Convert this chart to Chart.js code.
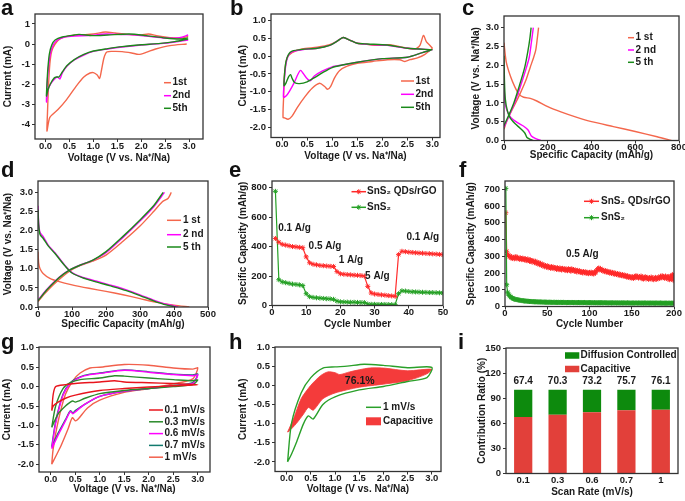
<!DOCTYPE html>
<html>
<head>
<meta charset="utf-8">
<script src="https://cdn.jsdelivr.net/npm/chart.js@4.4.1/dist/chart.umd.min.js"></script>
<style>
  body { margin: 0; background: #fff; }
  #fig { position: relative; width: 685px; height: 501px; overflow: hidden; font-family: "Liberation Sans", Arial, sans-serif; }
  #fig canvas { position: absolute; }
  .tag { position: absolute; font-weight: bold; font-size: 22px; line-height: 22px; color: #111; z-index: 2; }
</style>
</head>
<body>
<div id="fig"></div>
<script>
// ---- data ----
const voltTicks = [0, 0.5, 1, 1.5, 2, 2.5, 3];

// a: CV, first cycles (V, mA)
const a1V = [2.95,2.6,2.3,2.1,1.95,1.8,1.6,1.4,1.28,1.22,1.17,1.13,1.08,1.0,0.93,0.8,0.65,0.44,0.26,0.09,0.03,0.04,0.06,0.09,0.13,0.2,0.3,0.45,0.7,1.0,1.25,1.45,1.7,2.0,2.15,2.35,2.6,2.85,2.98];
const a1I = [0.0,-0.08,-0.25,-0.42,-0.52,-0.45,-0.38,-0.37,-0.4,-0.7,-1.3,-1.72,-1.55,-1.43,-1.45,-1.65,-2.08,-2.78,-3.28,-3.67,-4.35,-3.5,-2.2,-1.0,-0.35,0.0,0.25,0.38,0.45,0.5,0.6,0.55,0.48,0.45,0.5,0.4,0.32,0.3,0.38];
const a2V = [2.98,2.7,2.4,2.0,1.6,1.3,1.0,0.8,0.6,0.45,0.35,0.3,0.25,0.2,0.12,0.05,0.02,0.03,0.06,0.1,0.16,0.25,0.4,0.6,0.9,1.25,1.5,1.75,2.1,2.5,2.8,2.98];
const a2I = [0.2,0.1,0.02,-0.05,-0.15,-0.25,-0.37,-0.55,-0.8,-1.1,-1.45,-1.75,-1.65,-1.72,-1.95,-2.3,-2.9,-2.2,-1.2,-0.5,-0.05,0.2,0.35,0.4,0.42,0.5,0.48,0.47,0.4,0.3,0.32,0.45];
const a5V = [2.98,2.7,2.4,2.0,1.6,1.3,1.0,0.8,0.6,0.45,0.35,0.28,0.23,0.18,0.1,0.05,0.02,0.03,0.05,0.08,0.13,0.2,0.35,0.6,0.7,1.0,1.3,1.75,2.1,2.5,2.8,2.98];
const a5I = [0.25,0.12,0.03,-0.04,-0.13,-0.23,-0.35,-0.52,-0.78,-1.08,-1.4,-1.65,-1.65,-1.7,-2.0,-2.3,-2.6,-2.0,-1.2,-0.5,-0.05,0.2,0.35,0.45,0.48,0.42,0.45,0.5,0.42,0.3,0.25,0.3];
const aTicks = [-4, -3, -2, -1, 0, 1];

// b: CV, SnS2
const b1V = [3.0,2.85,2.7,2.55,2.45,2.35,2.1,1.8,1.5,1.3,1.15,1.05,0.97,0.91,0.85,0.75,0.6,0.45,0.3,0.2,0.12,0.05,0.02,0.03,0.05,0.1,0.2,0.4,0.7,0.95,1.1,1.22,1.35,1.5,1.65,1.9,2.15,2.4,2.65,2.75,2.82,2.88,2.95,3.0];
const b1I = [0.22,0.05,-0.05,-0.1,-0.15,-0.1,-0.1,-0.15,-0.2,-0.28,-0.4,-0.6,-0.85,-0.93,-0.85,-0.76,-0.9,-1.15,-1.45,-1.68,-1.77,-1.73,-1.72,-1.2,-0.5,-0.05,0.1,0.2,0.25,0.32,0.42,0.52,0.45,0.36,0.34,0.3,0.32,0.25,0.2,0.3,0.58,0.4,0.3,0.22];
const b2V = [3.0,2.8,2.5,2.0,1.5,1.2,1.0,0.8,0.65,0.56,0.48,0.42,0.37,0.32,0.25,0.15,0.08,0.03,0.04,0.07,0.12,0.2,0.4,0.7,0.95,1.1,1.22,1.35,1.5,1.7,2.1,2.5,3.0];
const b2I = [0.18,0.1,-0.03,-0.07,-0.17,-0.25,-0.3,-0.42,-0.55,-0.69,-0.6,-0.48,-0.4,-0.5,-0.72,-0.98,-1.12,-1.15,-0.8,-0.3,0.0,0.12,0.18,0.22,0.3,0.42,0.52,0.45,0.36,0.33,0.3,0.22,0.18];
const b5V = [3.0,2.8,2.5,2.0,1.5,1.2,1.0,0.8,0.65,0.5,0.35,0.25,0.2,0.17,0.13,0.08,0.04,0.05,0.08,0.13,0.2,0.4,0.7,0.95,1.1,1.22,1.35,1.5,1.7,2.1,2.5,3.0];
const b5I = [0.18,0.1,-0.03,-0.07,-0.17,-0.25,-0.32,-0.47,-0.6,-0.72,-0.77,-0.74,-0.62,-0.52,-0.58,-0.75,-0.83,-0.5,-0.15,0.05,0.14,0.19,0.22,0.3,0.42,0.52,0.45,0.36,0.34,0.31,0.22,0.18];
const bTicks = [-2, -1.5, -1, -0.5, 0, 0.5, 1];

// c: charge/discharge, SnS2 (mAh/g, V)
const c1dQ = [0,10,30,50,70,90,120,150,200,260,330,400,500,600,700,765];
const c1dV = [2.6,2.1,1.7,1.42,1.22,1.15,1.12,1.05,0.9,0.76,0.62,0.5,0.37,0.24,0.1,0.0];
const c1cQ = [0,15,40,70,100,120,135,145,152,158];
const c1cV = [0.3,0.55,0.85,1.2,1.6,1.95,2.2,2.4,2.7,3.0];
const c2dQ = [0,5,15,30,60,90,110,125,145,168];
const c2dV = [1.5,1.0,0.78,0.62,0.48,0.38,0.28,0.12,0.05,0.0];
const c2cQ = [0,20,45,70,95,115,125,134];
const c2cV = [0.35,0.62,0.95,1.35,1.8,2.2,2.6,3.0];
const c5dQ = [0,2,6,15,28,50,75,95,105,120,133];
const c5dV = [2.25,1.6,1.1,0.8,0.6,0.45,0.32,0.2,0.08,0.03,0.0];
const c5cQ = [0,20,45,70,95,110,118,124];
const c5cV = [0.4,0.65,1.0,1.45,1.95,2.4,2.7,3.0];
const capTicksC = [0, 200, 400, 600, 800];

// d: charge/discharge, SnS2 QDs/rGO
const d1dQ = [0,2,6,15,35,60,100,150,200,250,300,350,400,445];
const d1dV = [1.45,1.15,1.0,0.88,0.75,0.67,0.58,0.49,0.41,0.32,0.22,0.12,0.05,0.0];
const d1cQ = [0,20,45,70,95,120,160,200,250,300,340,365,383,392];
const d1cV = [0.14,0.35,0.58,0.78,0.95,1.07,1.2,1.36,1.72,2.12,2.5,2.75,2.85,3.0];
const d2dQ = [0,2,6,15,30,50,80,100,130,170,210,260,300,340,370,400,412];
const d2dV = [2.65,2.2,1.95,1.85,1.62,1.42,1.08,0.9,0.78,0.68,0.58,0.45,0.32,0.18,0.09,0.03,0.0];
const d2cQ = [0,25,50,75,95,125,160,200,250,300,340,372];
const d2cV = [0.18,0.45,0.68,0.87,0.98,1.1,1.22,1.42,1.82,2.25,2.62,3.0];
const d5dQ = [0,2,6,15,30,50,80,100,130,170,210,260,300,340,370,405];
const d5dV = [2.55,2.15,1.9,1.8,1.6,1.4,1.07,0.89,0.77,0.66,0.56,0.43,0.3,0.16,0.07,0.0];
const d5cQ = [0,25,50,75,95,125,160,200,250,300,340,368];
const d5cV = [0.16,0.44,0.67,0.86,0.98,1.1,1.22,1.45,1.85,2.28,2.65,3.0];
const capTicksD = [0, 100, 200, 300, 400, 500];
const vTicks = [0, 0.5, 1, 1.5, 2, 2.5, 3];

// e: rate capability (50 cycles)
const eQD = [455,430,415,410,405,400,398,395,392,330,290,280,276,272,270,268,266,265,230,215,212,210,208,206,205,203,200,130,85,78,75,72,70,67,65,62,345,368,365,362,360,358,356,355,353,352,350,349,347,345];
const eBulk = [775,175,160,155,150,145,143,140,135,80,60,55,52,50,48,46,45,42,30,25,24,23,22,22,21,20,20,10,8,8,7,7,7,6,6,6,80,100,98,95,93,92,91,90,89,88,88,87,86,85];
const eXTicks = [0, 10, 20, 30, 40, 50];
const eYTicks = [0, 200, 400, 600, 800];

// f: cycling at 0.5 A/g (200 cycles)
const fQD = [
  560,330,312,305,298,302,290,296,288,294, 285,292,298,286,293,288,282,291,286,280,
  289,283,278,286,280,274,284,277,270,279, 272,266,275,268,262,270,258,265,255,262,
  250,258,246,252,242,249,238,245,236,243, 232,240,233,228,238,230,236,226,233,229,
  222,232,226,220,230,224,218,228,221,226, 216,224,219,214,226,218,222,212,225,216,
  221,210,218,214,206,216,209,213,203,210, 206,200,209,202,207,198,205,200,196,204,
  199,205,196,202,194,206,200,212,218,226, 230,222,226,216,220,212,216,208,214,206,
  211,203,208,200,206,198,204,195,201,193, 199,191,197,188,194,186,192,184,190,182,
  188,180,186,176,183,174,180,172,178,170, 176,168,180,172,184,175,181,170,178,172,
  182,168,176,164,172,178,166,174,170,162, 172,166,176,164,170,160,168,174,162,170,
  166,176,168,180,172,184,174,178,168,182, 170,178,164,176,160,182,168,190,158,186];
const fBulk = [
  706,130,86,74,66,60,56,52,49,47, 45,43,42,41,40,39,38,37,36,35,
  35,34,33,33,32,32,31,31,30,30, 30,29,29,29,28,28,28,28,27,27,
  27,27,27,26,26,26,26,26,26,25, 25,25,26,25,25,24,25,25,25,24,
  25,24,25,24,24,25,24,24,25,24, 24,24,23,24,24,24,23,24,24,24,
  23,24,23,24,23,23,24,23,23,24, 23,23,23,24,23,23,22,23,23,23,
  23,22,23,23,22,23,22,23,22,22, 23,22,22,23,22,22,22,23,22,22,
  22,21,22,22,22,21,22,22,21,22, 22,21,22,21,22,21,21,22,21,21,
  22,21,21,21,22,21,21,21,20,21, 21,21,20,21,21,21,20,21,21,20,
  21,20,21,20,21,21,20,20,21,20, 20,21,20,20,21,20,20,20,21,20,
  20,20,20,21,20,20,19,20,20,20, 20,19,20,20,20,19,20,20,19,20];
const fXTicks = [0, 50, 100, 150, 200];
const fYTicks = [0, 100, 200, 300, 400, 500, 600, 700];

// g: CV at different scan rates
const g1V = [0.02,0.05,0.15,0.3,0.45,0.6,0.8,1.0,1.5,2.0,2.5,2.9,3.0,2.9,2.5,2.0,1.5,1.0,0.75,0.55,0.5,0.44,0.35,0.2,0.1,0.02];
const g1I = [-2.0,-1.6,-0.9,-0.2,0.15,0.35,0.48,0.5,0.57,0.55,0.48,0.45,0.48,0.2,0.07,-0.05,-0.15,-0.35,-0.55,-0.85,-0.88,-0.8,-1.1,-1.55,-1.8,-2.0];
const g7V = [0.02,0.1,0.25,0.4,0.6,0.8,1.0,1.5,2.0,2.5,2.9,3.0,2.9,2.5,2.0,1.5,1.0,0.7,0.5,0.45,0.4,0.3,0.15,0.02];
const g7I = [-1.55,-0.9,-0.2,0.1,0.25,0.32,0.35,0.43,0.38,0.32,0.3,0.32,0.1,0.03,-0.05,-0.12,-0.25,-0.45,-0.62,-0.68,-0.62,-0.85,-1.2,-1.55];
const g6I = [-1.6,-0.95,-0.22,0.08,0.24,0.31,0.34,0.42,0.37,0.31,0.28,0.3,0.08,0.02,-0.05,-0.12,-0.25,-0.45,-0.65,-0.7,-0.64,-0.88,-1.25,-1.6];
const g3V = [0.02,0.1,0.25,0.4,0.6,1.0,1.3,1.5,2.0,2.5,2.9,3.0,2.9,2.5,2.0,1.5,1.0,0.7,0.5,0.45,0.4,0.3,0.15,0.02];
const g3I = [-1.05,-0.5,-0.05,0.1,0.18,0.22,0.28,0.27,0.22,0.18,0.15,0.17,0.05,0.0,-0.05,-0.1,-0.18,-0.3,-0.4,-0.37,-0.4,-0.5,-0.7,-1.05];
const g0V = [0.02,0.05,0.1,0.3,0.5,1.0,1.3,1.5,2.0,2.5,3.0,2.5,2.0,1.5,1.0,0.5,0.3,0.15,0.05,0.02];
const g0I = [-0.62,-0.2,0.0,0.05,0.08,0.12,0.15,0.12,0.1,0.08,0.05,0.02,-0.01,-0.05,-0.1,-0.22,-0.3,-0.4,-0.5,-0.62];
const cvTicks = [-2, -1.5, -1, -0.5, 0, 0.5, 1];

// h: capacitive separation at 1 mV/s
const hV = [0.02,0.1,0.3,0.5,0.75,1.0,1.25,1.6,2.0,2.5,3.0,2.9,2.5,2.0,1.5,1.0,0.75,0.55,0.45,0.35,0.2,0.1,0.02];
const hI = [-2.0,-1.0,-0.2,0.2,0.45,0.48,0.5,0.55,0.52,0.46,0.47,0.2,0.1,-0.03,-0.12,-0.3,-0.5,-0.88,-0.8,-1.0,-1.5,-1.8,-2.0];
const hCapV = [0.02,0.15,0.3,0.5,0.7,0.85,1.0,1.1,1.3,1.7,2.0,2.5,3.0,2.9,2.5,2.0,1.5,1.0,0.75,0.55,0.45,0.35,0.2,0.05,0.02];
const hCapI = [-1.22,-0.85,-0.35,0.0,0.25,0.35,0.33,0.28,0.35,0.45,0.45,0.38,0.42,0.3,0.12,0.03,-0.05,-0.2,-0.35,-0.65,-0.58,-0.75,-1.0,-1.2,-1.22];

// i: contribution ratio
const scanRates = ['0.1', '0.3', '0.6', '0.7', '1'];
const capacitive = [67.4, 70.3, 73.2, 75.7, 76.1];
const diffusion = [32.6, 29.7, 26.8, 24.3, 23.9];
const ratioTicks = [0, 30, 60, 90, 120, 150];

// ---- drawing ----
const FONT = '"Liberation Sans", Arial, sans-serif';
const INK = '#1a1a1a';
Chart.defaults.font.family = FONT;
Chart.defaults.font.weight = 'bold';
Chart.defaults.color = INK;

const orange = '#f4674c', magenta = '#ff00ff', green = '#1a8a1a';
const fig = document.getElementById('fig');

const xy = (xs, ys) => xs.map((x, i) => ({ x, y: ys[i] }));

const curve = (xs, ys, color) => ({
  data: xy(xs, ys), showLine: true, borderColor: color, backgroundColor: color,
  borderWidth: 1.4, pointRadius: 0, tension: 0.25
});

const stars = (ys, color) => ({
  data: ys.map((v, i) => ({ x: i + 1, y: v })), showLine: true,
  borderColor: color, backgroundColor: color, borderWidth: 1.2,
  pointStyle: 'star', pointRadius: 2.5, pointBorderWidth: 1, pointBorderColor: color
});

function drawStar(ctx, x, y, r) {
  const d = r * Math.SQRT1_2;
  ctx.beginPath();
  ctx.moveTo(x - r, y); ctx.lineTo(x + r, y);
  ctx.moveTo(x, y - r); ctx.lineTo(x, y + r);
  ctx.moveTo(x - d, y - d); ctx.lineTo(x + d, y + d);
  ctx.moveTo(x - d, y + d); ctx.lineTo(x + d, y - d);
  ctx.stroke();
}

const frame = {
  id: 'frame',
  afterDraw(chart) {
    const { ctx, chartArea: a } = chart;
    ctx.save();
    ctx.strokeStyle = '#333';
    ctx.lineWidth = 1.3;
    ctx.strokeRect(a.left, a.top, a.right - a.left, a.bottom - a.top);
    ctx.restore();
  }
};

// legend drawn inside the plot, positions in page pixels
const keyBox = {
  id: 'keyBox',
  afterDraw(chart, args, opts) {
    if (!opts.items) return;
    const ctx = chart.ctx;
    const ox = chart.canvas.offsetLeft, oy = chart.canvas.offsetTop;
    const x0 = opts.x0 - ox, x1 = opts.x1 - ox;
    ctx.save();
    ctx.font = `bold ${opts.size || 10}px ${FONT}`;
    ctx.textBaseline = 'middle';
    opts.items.forEach(it => {
      const y = it.y - oy;
      if (it.kind === 'box') {
        ctx.fillStyle = it.color;
        ctx.fillRect(x0, y - it.h / 2, x1 - x0, it.h);
      } else {
        ctx.strokeStyle = it.color;
        ctx.lineWidth = 1.5;
        ctx.beginPath(); ctx.moveTo(x0, y); ctx.lineTo(x1, y); ctx.stroke();
        if (it.kind === 'star') { ctx.lineWidth = 1; drawStar(ctx, (x0 + x1) / 2, y, 2.5); }
      }
      ctx.fillStyle = INK;
      ctx.fillText(it.text, opts.tx - ox, y);
    });
    ctx.restore();
  }
};

// text placed at data coordinates
const notes = {
  id: 'notes',
  afterDatasetsDraw(chart, args, opts) {
    if (!opts.items) return;
    const { ctx, scales: { x, y } } = chart;
    ctx.save();
    ctx.font = `bold ${opts.size || 10}px ${FONT}`;
    ctx.textAlign = 'center';
    ctx.textBaseline = 'middle';
    ctx.fillStyle = INK;
    opts.items.forEach(n => ctx.fillText(n.text, x.getPixelForValue(n.x), y.getPixelForValue(n.y)));
    ctx.restore();
  }
};

function axis(range, ticks, dec, title, fit, pad) {
  const ax = {
    afterFit: fit,
    ticks: { font: { size: 9.5, weight: 'bold' }, padding: pad, color: INK, maxRotation: 0, autoSkip: false },
    grid: { display: true, drawOnChartArea: false, tickLength: 3, color: '#333' },
    border: { display: false },
    title: { display: true, text: title, font: { size: 10, weight: 'bold' }, padding: 0, color: INK }
  };
  if (range) {
    ax.type = 'linear';
    ax.min = range[0];
    ax.max = range[1];
    ax.afterBuildTicks = s => { s.ticks = ticks.map(v => ({ value: v })); };
    ax.ticks.callback = v => v.toFixed(dec);
  }
  return ax;
}

function panel(p) {
  const left = p.ytc - 6;
  const width = p.R - left + 16;
  const height = p.B + p.xto + 6 - p.cy;
  const cv = document.createElement('canvas');
  cv.width = width;
  cv.height = height;
  cv.style.left = left + 'px';
  cv.style.top = p.cy + 'px';
  fig.appendChild(cv);

  const xAx = axis(p.x, p.xt, p.xd, p.xTitle, s => { s.height = p.xto + 6; }, -1.5);
  const yAx = axis(p.y, p.yt, p.yd, p.yTitle, s => { s.width = p.L - left; }, 2);
  if (p.bar) {
    xAx.type = 'category';
    xAx.stacked = true;
    xAx.grid.display = false;
    xAx.ticks.padding = -2;
    yAx.stacked = true;
  }

  new Chart(cv, {
    type: p.bar ? 'bar' : 'scatter',
    data: { labels: p.labels, datasets: p.datasets },
    options: {
      responsive: false, animation: false, devicePixelRatio: 1,
      layout: { padding: { left: 0, top: p.T - p.cy, right: 16, bottom: 0 } },
      plugins: {
        legend: { display: false }, tooltip: { enabled: false },
        keyBox: p.key || {}, notes: p.notes || {}
      },
      scales: { x: xAx, y: yAx }
    },
    plugins: [frame, keyBox, notes]
  });

  const t = document.createElement('div');
  t.className = 'tag';
  t.textContent = p.tag;
  t.style.left = p.tx + 'px';
  t.style.top = p.ty + 'px';
  fig.appendChild(t);
}

const VTITLE = 'Voltage (V vs. Na\u207A/Na)';
const CAPTITLE = 'Specific Capacity (mAh/g)';
const line3 = (x0, x1, tx, ys, names, colors) => ({
  x0, x1, tx, items: names.map((n, i) => ({ text: n, color: colors[i], y: ys[i] }))
});

panel({
  tag: 'a', tx: 1, ty: -3, cy: 0, L: 35, T: 14, R: 203, B: 139, ytc: 8, xto: 19,
  x: [-0.22, 3.29], xt: voltTicks, xd: 1, xTitle: VTITLE,
  y: [-4.75, 1.5], yt: aTicks, yd: 0, yTitle: 'Current (mA)',
  datasets: [curve(a5V, a5I, green), curve(a2V, a2I, magenta), curve(a1V, a1I, orange)],
  key: line3(164, 171, 172.5, [82.7, 95.7, 108.3], ['1st', '2nd', '5th'], [orange, magenta, green])
});

panel({
  tag: 'b', tx: 230, ty: -3, cy: 0, L: 271, T: 14, R: 440, B: 138, ytc: 243, xto: 18.5,
  x: [-0.22, 3.15], xt: voltTicks, xd: 1, xTitle: VTITLE,
  y: [-2.28, 1.18], yt: bTicks, yd: 1, yTitle: 'Current (mA)',
  datasets: [curve(b5V, b5I, green), curve(b2V, b2I, magenta), curve(b1V, b1I, orange)],
  key: line3(401, 414, 415.5, [81, 94.3, 107.3], ['1st', '2nd', '5th'], [orange, magenta, green])
});

panel({
  tag: 'c', tx: 462, ty: -3, cy: 0, L: 504, T: 16, R: 679, B: 141, ytc: 476, xto: 14.5,
  x: [0, 800], xt: capTicksC, xd: 0, xTitle: CAPTITLE,
  y: [0, 3.31], yt: vTicks, yd: 1, yTitle: VTITLE,
  datasets: [
    curve(c5dQ, c5dV, green), curve(c5cQ, c5cV, green),
    curve(c2dQ, c2dV, magenta), curve(c2cQ, c2cV, magenta),
    curve(c1dQ, c1dV, orange), curve(c1cQ, c1cV, orange)
  ],
  key: line3(628, 634, 635.5, [37.7, 50, 62.3], ['1 st', '2 nd', '5 th'], [orange, magenta, green])
});

panel({
  tag: 'd', tx: 1, ty: 159.4, cy: 167, L: 38, T: 181, R: 208, B: 307, ytc: 8, xto: 17,
  x: [0, 500], xt: capTicksD, xd: 0, xTitle: CAPTITLE,
  y: [0, 3.3], yt: vTicks, yd: 1, yTitle: VTITLE,
  datasets: [
    curve(d5dQ, d5dV, green), curve(d5cQ, d5cV, green),
    curve(d2dQ, d2dV, magenta), curve(d2cQ, d2cV, magenta),
    curve(d1dQ, d1dV, orange), curve(d1cQ, d1cV, orange)
  ],
  key: line3(167, 181, 183, [220.3, 234.7, 247], ['1 st', '2 nd', '5 th'], [orange, magenta, green])
});

panel({
  tag: 'e', tx: 229, ty: 159.4, cy: 167, L: 272, T: 181, R: 443, B: 306, ytc: 243, xto: 18.5,
  x: [0, 50], xt: eXTicks, xd: 0, xTitle: 'Cycle Number',
  y: [0, 845], yt: eYTicks, yd: 0, yTitle: CAPTITLE,
  datasets: [stars(eQD, '#ff2a2a'), stars(eBulk, '#25a025')],
  key: {
    x0: 351.5, x1: 366, tx: 367, items: [
      { text: 'SnS\u2082 QDs/rGO', color: '#ff2a2a', y: 191.7, kind: 'star' },
      { text: 'SnS\u2082', color: '#25a025', y: 207.3, kind: 'star' }
    ]
  },
  notes: {
    items: [
      { text: '0.1 A/g', x: 6.6, y: 525 }, { text: '0.5 A/g', x: 15.5, y: 401 },
      { text: '1 A/g', x: 23.1, y: 304 }, { text: '5 A/g', x: 30.8, y: 198 },
      { text: '0.1 A/g', x: 44.1, y: 462 }
    ]
  }
});

panel({
  tag: 'f', tx: 459, ty: 159.4, cy: 167, L: 505, T: 181, R: 674, B: 307, ytc: 471, xto: 17.5,
  x: [0, 200], xt: fXTicks, xd: 0, xTitle: 'Cycle Number',
  y: [0, 750], yt: fYTicks, yd: 0, yTitle: CAPTITLE,
  datasets: [stars(fBulk, '#25a025'), stars(fQD, '#ff2a2a')],
  key: {
    x0: 584, x1: 599, tx: 601, items: [
      { text: 'SnS\u2082 QDs/rGO', color: '#ff2a2a', y: 201.3, kind: 'star' },
      { text: 'SnS\u2082', color: '#25a025', y: 217.7, kind: 'star' }
    ]
  },
  notes: { items: [{ text: '0.5 A/g', x: 91.5, y: 314 }] }
});

const gCols = ['#e8141c', '#2a8a2a', '#ff00ff', '#127a6e', '#f2604c'];
panel({
  tag: 'g', tx: 1, ty: 331, cy: 334, L: 39, T: 347, R: 210, B: 472, ytc: 7, xto: 17,
  x: [-0.24, 3.25], xt: voltTicks, xd: 1, xTitle: VTITLE,
  y: [-2.2, 1.02], yt: cvTicks, yd: 1, yTitle: 'Current (mA)',
  datasets: [
    curve(g0V, g0I, gCols[0]), curve(g3V, g3I, gCols[1]), curve(g7V, g6I, gCols[2]),
    curve(g7V, g7I, gCols[3]), curve(g1V, g1I, gCols[4])
  ],
  key: line3(149, 163, 164.5, [410, 421.8, 433.6, 445.4, 457.2],
    ['0.1 mV/s', '0.3 mV/s', '0.6 mV/s', '0.7 mV/s', '1 mV/s'], gCols)
});

panel({
  tag: 'h', tx: 229, ty: 331, cy: 334, L: 275, T: 347, R: 441, B: 472, ytc: 243, xto: 17.5,
  x: [-0.24, 3.19], xt: voltTicks, xd: 1, xTitle: VTITLE,
  y: [-2.25, 1.0], yt: cvTicks, yd: 1, yTitle: 'Current (mA)',
  datasets: [
    curve(hV, hI, '#2aa02a'),
    Object.assign(curve(hCapV, hCapI, '#f43b3b'), { fill: 'shape', borderWidth: 0.8 })
  ],
  key: {
    x0: 366, x1: 381, tx: 383, items: [
      { text: '1 mV/s', color: '#2aa02a', y: 407.3 },
      { text: 'Capacitive', color: '#f43b3b', y: 421.3, kind: 'box', h: 8 }
    ]
  },
  notes: { size: 10.5, items: [{ text: '76.1%', x: 1.51, y: 0.11 }] }
});

panel({
  tag: 'i', tx: 458, ty: 331, cy: 334, L: 506, T: 348, R: 678, B: 474, ytc: 482, xto: 18.5,
  bar: true, labels: scanRates, xTitle: 'Scan Rate (mV/s)',
  y: [0, 150], yt: ratioTicks, yd: 0, yTitle: 'Contribution Ratio (%)',
  datasets: [
    { data: capacitive, backgroundColor: '#e2403a', barPercentage: 0.53, categoryPercentage: 1 },
    { data: diffusion, backgroundColor: '#0d8a0d', barPercentage: 0.53, categoryPercentage: 1 }
  ],
  key: {
    x0: 565, x1: 579.3, tx: 580.5, items: [
      { text: 'Diffusion Controlled', color: '#0d8a0d', y: 355.5, kind: 'box', h: 6.5 },
      { text: 'Capacitive', color: '#e2403a', y: 369, kind: 'box', h: 6.5 }
    ]
  },
  notes: { size: 10, items: capacitive.map((v, i) => ({ text: v.toFixed(1), x: i, y: 110 })) }
});
</script>
</body>
</html>
